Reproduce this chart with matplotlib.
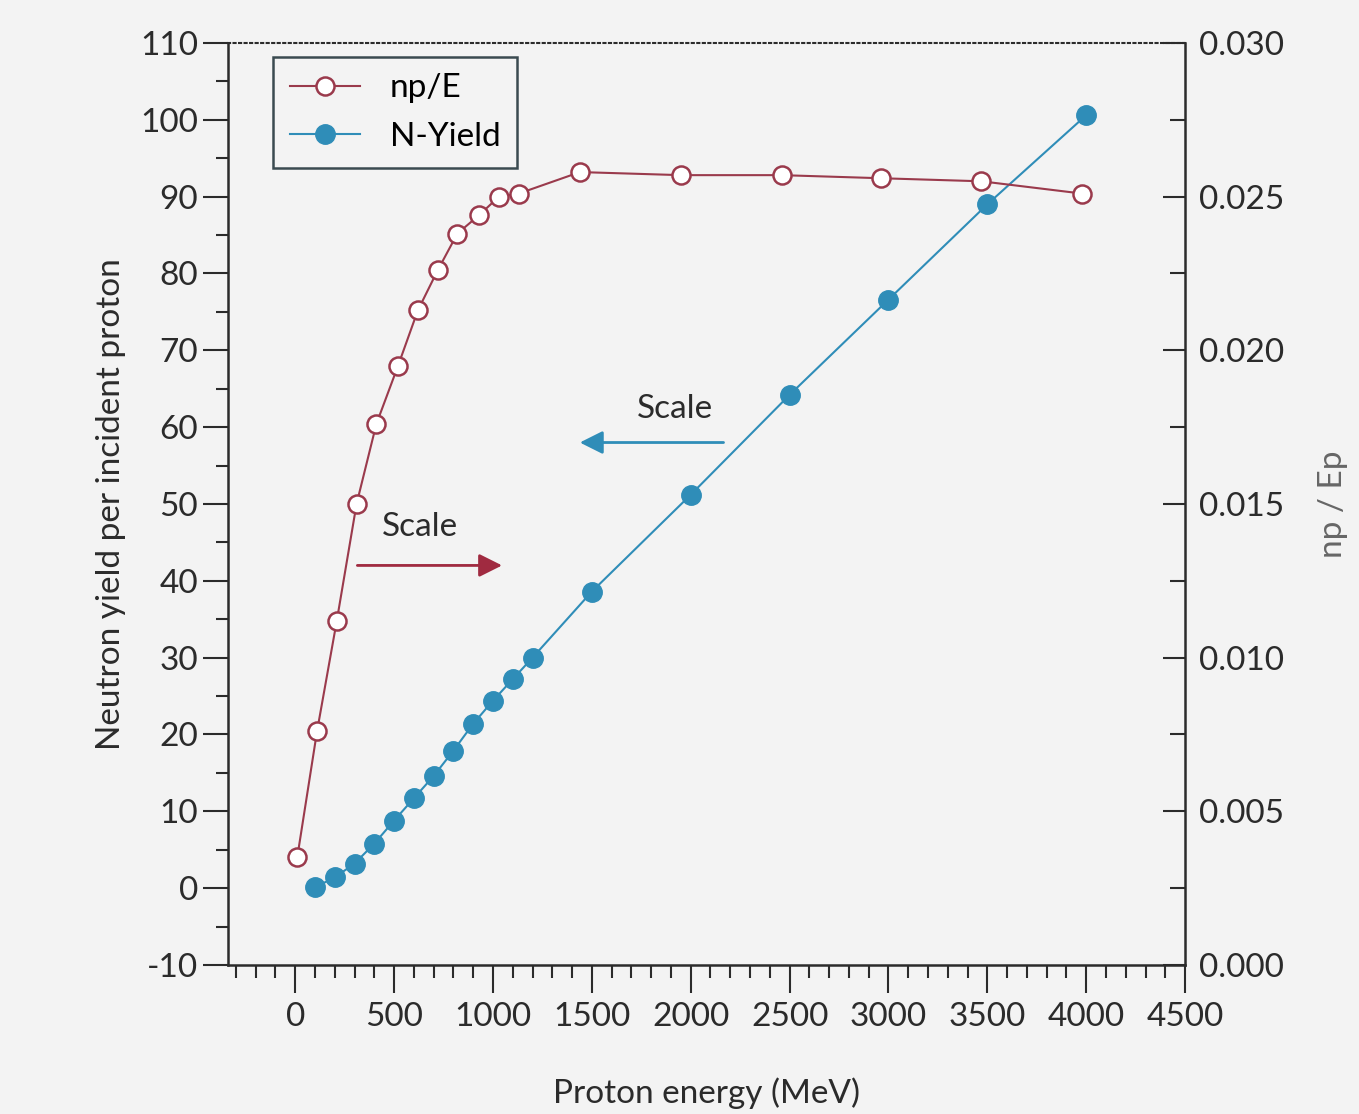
import matplotlib.pyplot as plt
from matplotlib.ticker import MultipleLocator, FormatStrFormatter

# N-Yield (left axis)
energy_yield = [100, 200, 300, 400, 500, 600, 700, 800, 900, 1000, 1100, 1200,
                1500, 2000, 2500, 3000, 3500, 4000]
n_yield = [0.1, 1.4, 3.2, 5.8, 8.8, 11.7, 14.6, 17.9, 21.4, 24.4, 27.2, 30.0,
           38.6, 51.2, 64.2, 76.6, 89.0, 100.6]

# np/E (right axis)
energy_np = [10, 110, 210, 310, 410, 520, 620, 720, 820, 930, 1030, 1130,
             1440, 1950, 2460, 2960, 3470, 3980]
np_e = [0.0035, 0.0076, 0.0112, 0.0150, 0.0176, 0.0195, 0.0213, 0.0226, 0.0238,
        0.0244, 0.0250, 0.0251, 0.0258, 0.0257, 0.0257, 0.0256, 0.0255, 0.0251]

red = "#9a3a4c"
blue = "#2f8db8"
bg = "#f3f3f3"
txt = "#2b2b2b"

plt.rcParams['font.family'] = ['Lato', 'DejaVu Sans']
plt.rcParams['axes.unicode_minus'] = False

fig = plt.figure(figsize=(13.59, 11.14), dpi=100, facecolor=bg)
ax = fig.add_subplot(111, facecolor=bg)
fig.subplots_adjust(left=0.1678, right=0.872, top=0.9614, bottom=0.1338)
ax2 = ax.twinx()

l2, = ax.plot(energy_yield, n_yield, color=blue, lw=1.5, marker='o',
              markersize=14, markerfacecolor=blue, markeredgecolor=blue,
              label="N-Yield", zorder=3)
l1, = ax2.plot(energy_np, np_e, color=red, lw=1.5, marker='o', markersize=13,
               markerfacecolor='white', markeredgecolor=red, markeredgewidth=1.8,
               label="np/E", zorder=3)

ax.set_xlim(-340, 4500)
ax.set_ylim(-10, 110)
ax2.set_ylim(0, 0.030)

ax.xaxis.set_major_locator(MultipleLocator(500))
ax.xaxis.set_minor_locator(MultipleLocator(100))
ax.yaxis.set_major_locator(MultipleLocator(10))
ax.yaxis.set_minor_locator(MultipleLocator(5))
ax2.yaxis.set_major_locator(MultipleLocator(0.005))
ax2.yaxis.set_minor_locator(MultipleLocator(0.0025))
ax2.yaxis.set_major_formatter(FormatStrFormatter('%.3f'))

ax.tick_params(axis='both', which='major', direction='out', length=14, width=1.5,
               labelsize=24, labelcolor=txt, color=txt)
ax.tick_params(axis='both', which='minor', direction='out', length=9, width=1.5,
               color=txt)
ax.tick_params(axis='y', which='major', length=18)
ax.tick_params(axis='x', which='major', length=20, pad=7)
ax2.tick_params(axis='y', which='major', direction='in', length=16, width=1.5,
                labelsize=24, labelcolor=txt, color=txt, pad=10)
ax2.tick_params(axis='y', which='minor', direction='in', length=11, width=1.5,
                color=txt)

for s in ['left', 'bottom']:
    ax.spines[s].set_linewidth(1.8)
    ax.spines[s].set_color(txt)
ax.spines['right'].set_visible(False)
ax.spines['top'].set_linestyle(':')
ax.spines['top'].set_linewidth(1.5)
ax.spines['top'].set_color(txt)
for s in ['left', 'bottom', 'top']:
    ax2.spines[s].set_visible(False)
ax2.spines['right'].set_linewidth(1.8)
ax2.spines['right'].set_color(txt)

ax.set_xlabel("Proton energy (MeV)", fontsize=24, color=txt, labelpad=32)
ax.set_ylabel("Neutron yield per incident proton", fontsize=24, color=txt,
              labelpad=10)
ax2.set_ylabel("np / Ep", fontsize=24, color="#666666", labelpad=24)

# scale arrows
ax.annotate("", xy=(1060, 42), xytext=(300, 42),
            arrowprops=dict(arrowstyle='-|>,head_length=1.4,head_width=0.7',
                            color="#a02a40", lw=2))
ax.text(633, 47, "Scale", fontsize=24, color=txt, ha='center', va='center')
ax.annotate("", xy=(1425, 58), xytext=(2180, 58),
            arrowprops=dict(arrowstyle='-|>,head_length=1.4,head_width=0.7',
                            color=blue, lw=2))
ax.text(1919, 62.3, "Scale", fontsize=24, color=txt, ha='center', va='center')

leg = ax.legend(handles=[l1, l2], loc='upper left', borderaxespad=0,
                bbox_to_anchor=(0.047, 0.985), fontsize=24, handlelength=2.1,
                framealpha=1, facecolor=bg, edgecolor="#3a4a50", fancybox=False,
                borderpad=0.5, labelspacing=0.55, handletextpad=0.9)
leg.get_frame().set_linewidth(1.8)
leg.set_zorder(5)

fig.savefig("out.png", dpi=100, facecolor=bg)
